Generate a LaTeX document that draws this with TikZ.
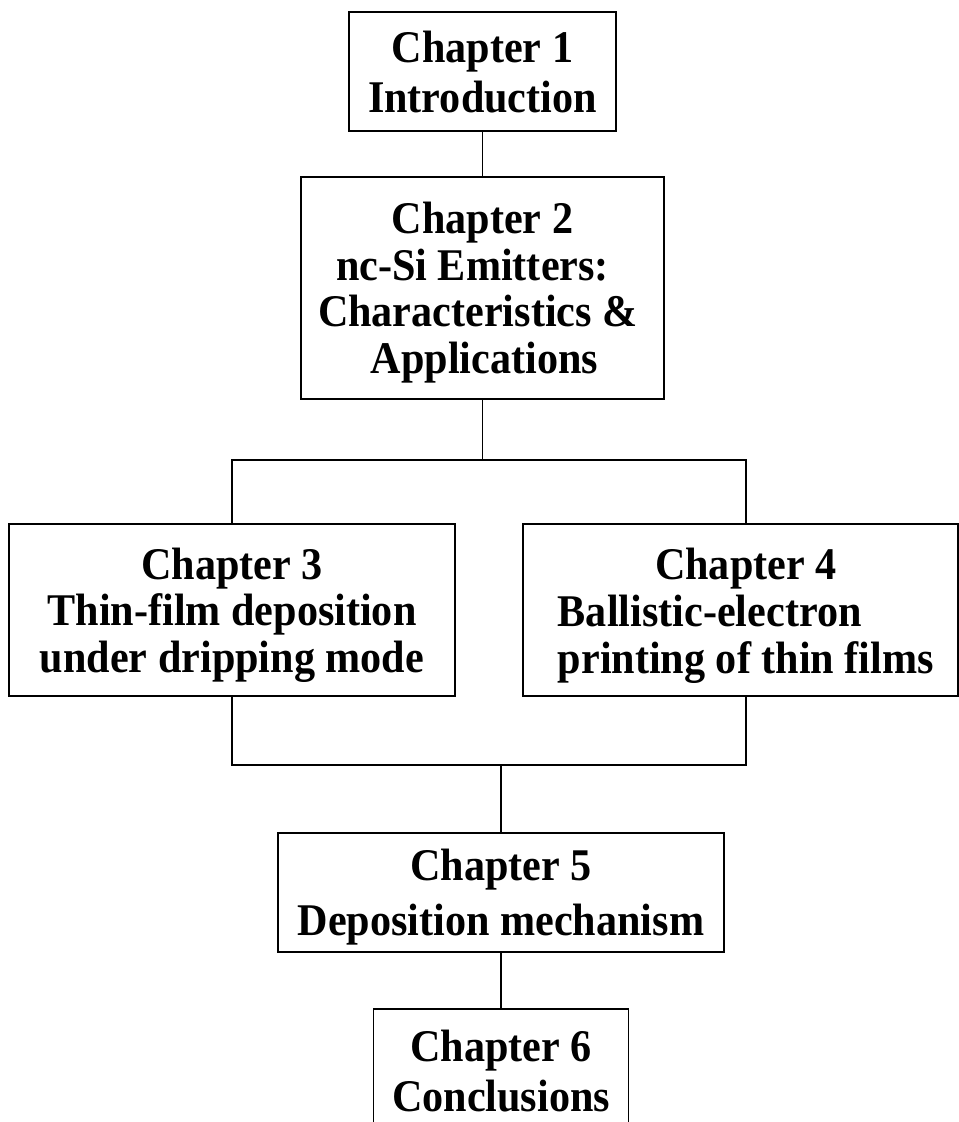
\documentclass[tikz,border=0pt]{standalone}
\usepackage{fontspec}
\setmainfont{Liberation Serif}[FakeStretch=0.93]
\usetikzlibrary{positioning}

\begin{document}
\begin{tikzpicture}[
      x=0.75pt, y=-0.75pt,
      box/.style={draw, line width=1.4pt, inner sep=0pt, text depth=0pt, align=center, font=\bfseries\fontsize{34}{35}\selectfont},
      link/.style={line width=1.1pt},
    ]
    \useasboundingbox (0,0) rectangle (959,1122);

    \node[box, minimum width=200pt, minimum height=89pt, font=\bfseries\fontsize{34}{37.5}\selectfont] (ch1) at (482.5,71.5) {Chapter 1\\Introduction};
    \node[box, below=33pt of ch1, minimum width=272pt, minimum height=166.5pt] (ch2) {Chapter 2\\nc-Si Emitters:\makebox[15pt]{}\\Characteristics \&\makebox[7pt]{}\\\makebox[3pt]{}Applications};

    \node[box, minimum width=334.5pt, minimum height=129pt] (ch3) at (232,610) {Chapter 3\\Thin-film deposition\\under dripping mode};
    \node[box, minimum width=326.25pt, minimum height=129pt] (ch4) at (740.5,610) {\begin{tabular}[b]{@{\hspace{8pt}}l@{}}\multicolumn{1}{@{\hspace{8pt}}c@{}}{Chapter 4}\\Ballistic-electron\\printing of thin films\end{tabular}};

    \node[box, minimum width=334.5pt, minimum height=89pt, font=\bfseries\fontsize{34}{41}\selectfont] (ch5) at (501,892.5) {Chapter 5\\Deposition mechanism};
    \node[box, below=41.25pt of ch5, minimum width=191.25pt, minimum height=93pt, font=\bfseries\fontsize{34}{37.5}\selectfont] (ch6) {Chapter 6\\Conclusions};

    \coordinate (split) at (482.5,460);
    \coordinate (merge) at (501,765);

    \draw[link] (ch1.south) -- (ch2.north);
    \draw[link] (ch2.south) -- (split);
    \draw[link] (ch3.north) |- (split) -| ([xshift=4pt]ch4.north);

    \draw[link] (ch3.south) |- (merge) -| ([xshift=4pt]ch4.south);
    \draw[link] (merge) -- (ch5.north);
    \draw[link] (ch5.south) -- (ch6.north);
  \end{tikzpicture}
\end{document}
